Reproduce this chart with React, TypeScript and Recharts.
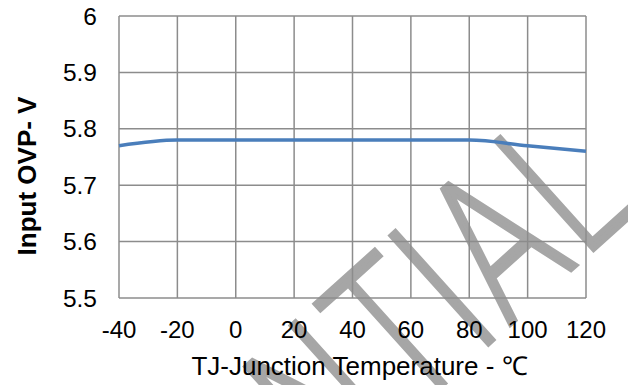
import React from "react";
import { LineChart, Line, XAxis, YAxis, CartesianGrid } from "recharts";

const temps = [-40, -20, 0, 20, 40, 60, 80, 100, 120];
const ovp = [5.77, 5.78, 5.78, 5.78, 5.78, 5.78, 5.78, 5.77, 5.76];
const xTicks = [-40, -20, 0, 20, 40, 60, 80, 100, 120];
const yTicks = [5.5, 5.6, 5.7, 5.8, 5.9, 6];

const data = temps.map((t, i) => ({ t, v: ovp[i] }));

const font = "'Liberation Sans', Arial, sans-serif";
const gridColor = "#8c8c8c";

const YLabel = () => (
  <text
    x={27}
    y={176}
    transform="rotate(-90 27 176)"
    textAnchor="middle"
    dominantBaseline="central"
    fontFamily={font}
    fontWeight="bold"
    fontSize={26}
    fill="#000"
  >
    Input OVP- V
  </text>
);

// grey "CONFIDENTIAL" stamp behind the plot
const Watermark = () => (
  <svg width={628} height={385} style={{ position: "absolute", left: 0, top: 0 }}>
    <g transform="translate(639.5 208) rotate(-42) scale(0.72 1)">
      <text
        x={0}
        y={0}
        textAnchor="end"
        fontFamily="'DejaVu Sans', sans-serif"
        fontWeight={200}
        fontSize={200}
        fill="#a6a6a6"
        stroke="#a6a6a6"
        strokeWidth={5}
        strokeLinejoin="miter"
      >
        CONFIDENTIAL
      </text>
    </g>
  </svg>
);

export default function App() {
  return (
    <div style={{ position: "absolute", left: 0, top: 0, width: 628, height: 385, background: "#fff" }}>
      <Watermark />
      <div style={{ position: "absolute", left: 0, top: 0 }}>
        <LineChart
          width={628}
          height={385}
          data={data}
          margin={{ top: 16, right: 42, left: 0, bottom: 0 }}
        >
          <CartesianGrid stroke={gridColor} strokeWidth={1.5} />
          <XAxis
            dataKey="t"
            type="number"
            domain={[-40, 120]}
            ticks={xTicks}
            height={87}
            tickSize={0}
            tickMargin={23}
            axisLine={false}
            tickLine={false}
            tick={{ fill: "#000", fontSize: 24, fontFamily: font }}
            label={{
              value: "TJ-Junction Temperature - ℃",
              position: "insideBottom",
              offset: 10,
              dx: 7,
              fill: "#000",
              fontSize: 26,
              fontFamily: font,
            }}
          />
          <YAxis
            domain={[5.5, 6]}
            ticks={yTicks}
            width={119}
            tickSize={0}
            tickMargin={22}
            axisLine={false}
            tickLine={false}
            tick={{ fill: "#000", fontSize: 24.5, fontFamily: font }}
            label={<YLabel />}
          />
          <Line
            type="monotone"
            dataKey="v"
            stroke="#4a7ebb"
            strokeWidth={3.5}
            dot={false}
            isAnimationActive={false}
          />
        </LineChart>
      </div>
    </div>
  );
}
